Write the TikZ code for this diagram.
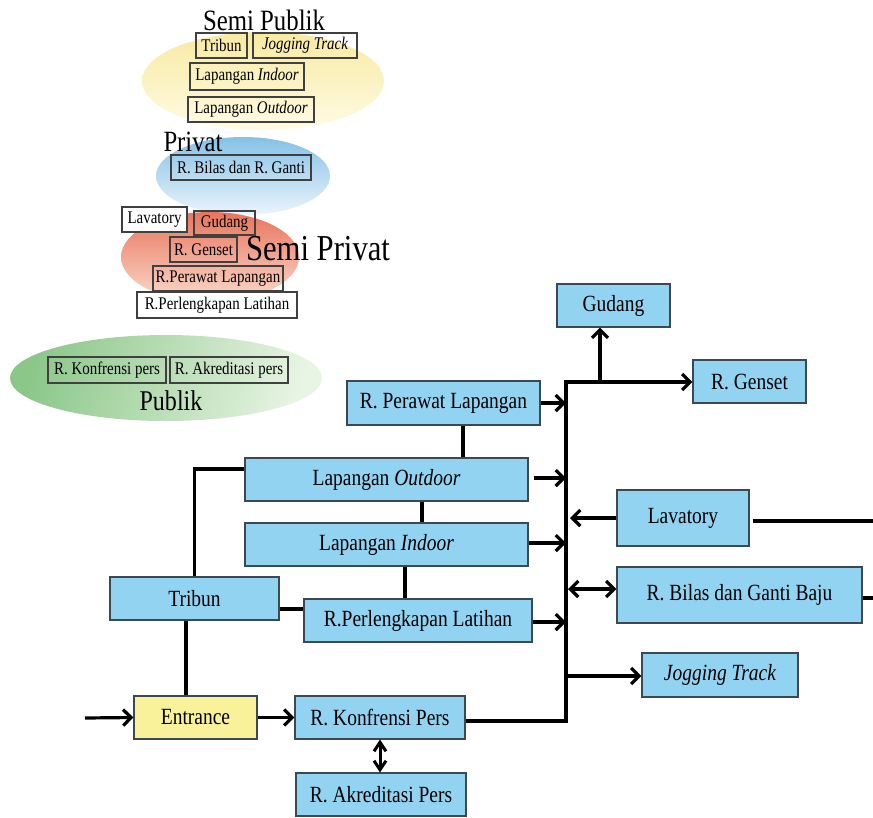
\documentclass[tikz,border=0pt]{standalone}
\usepackage{fontspec}
\setmainfont{Liberation Serif}[FakeStretch=0.84]
\usetikzlibrary{arrows.meta}
\definecolor{boxblue}{HTML}{92D3F1}
\definecolor{boxyel}{HTML}{F9F29A}
\definecolor{boxedge}{HTML}{3A4A55}
\definecolor{ytop}{HTML}{F8EAA2}
\definecolor{ybot}{HTML}{FFFBE4}
\definecolor{btop}{HTML}{86C1E7}
\definecolor{bbot}{HTML}{EAF5FC}
\definecolor{stop}{HTML}{E8755C}
\definecolor{sbot}{HTML}{FBDACD}
\definecolor{gleft}{HTML}{8CC78A}
\definecolor{gright}{HTML}{E8F4E4}
\tikzset{
  flowbox/.style={draw=boxedge, line width=1.2pt, fill=boxblue, inner sep=0pt,
    font=\fontsize{23.2}{25}\selectfont},
  legbox/.style={draw=black!75, line width=1.1pt, inner sep=0pt,
    font=\fontsize{17.8}{19}\selectfont},
  legtitle/.style={inner sep=0pt},
  conn/.style={line width=3.2pt},
  arr/.style={line width=3.2pt, -{Straight Barb[length=8pt,width=16pt]}},
  darr/.style={line width=3.2pt, {Straight Barb[length=8pt,width=16pt]}-{Straight Barb[length=8pt,width=16pt]}}
}
\begin{document}
\begin{tikzpicture}[x=1pt,y=-1pt]
\useasboundingbox (0,0) rectangle (873,817);

% ---------- legend ellipses ----------
\shade[top color=ytop, bottom color=ybot] (263,81) ellipse [x radius=121, y radius=49];
\shade[top color=btop, bottom color=bbot] (243,176) ellipse [x radius=87, y radius=39];
\shade[top color=stop, bottom color=sbot] (210,257) ellipse [x radius=89, y radius=45];
\shade[left color=gleft, right color=gright, shading angle=75] (166,378) ellipse [x radius=156, y radius=43];

% ---------- legend titles ----------
\node[legtitle, font=\fontsize{29.5}{31}\selectfont] (tsp) at (264,20) {Semi Publik};
\node[legtitle, font=\fontsize{29.4}{31}\selectfont] (tpr) at (193,142) {Privat};
\node[legtitle, font=\fontsize{36.5}{38}\selectfont] (tspr) at (318,249) {Semi Privat};
\node[legtitle, font=\fontsize{28.6}{30}\selectfont] (tpu) at (171,401) {Publik};

% ---------- legend boxes ----------
\node[legbox, minimum width=51pt, minimum height=25pt] (lt) at (221.5,45.5) {Tribun};
\node[legbox, minimum width=104pt, minimum height=25pt] (lj) at (305,45.5) {\itshape Jogging Track};
\node[legbox, minimum width=114pt, minimum height=27pt] (li) at (247,76.5) {Lapangan \textit{Indoor}};
\node[legbox, minimum width=126pt, minimum height=25pt] (lo) at (251,109.5) {Lapangan \textit{Outdoor}};
\node[legbox, minimum width=140pt, minimum height=25pt] (lb) at (241,167.5) {R. Bilas dan R. Ganti};
\node[legbox, fill=white, minimum width=65pt, minimum height=25pt] (ll) at (154.5,219.5) {Lavatory};
\node[legbox, minimum width=61pt, minimum height=24pt] (lg) at (224.5,223) {Gudang};
\node[legbox, minimum width=67pt, minimum height=25pt] (lgs) at (203.5,249.5) {R. Genset};
\node[legbox, minimum width=130pt, minimum height=25pt] (lp) at (218,278.5) {R.Perawat Lapangan};
\node[legbox, fill=white, minimum width=160pt, minimum height=26pt] (lpl) at (217,305) {R.Perlengkapan Latihan};
\node[legbox, minimum width=118pt, minimum height=26pt] (lk) at (107,370) {R. Konfrensi pers};
\node[legbox, minimum width=118pt, minimum height=26pt] (la) at (229,370) {R. Akreditasi pers};

% ---------- flow boxes ----------
\node[flowbox, minimum width=113pt, minimum height=43pt] (gud) at (613.5,305.5) {Gudang};
\node[flowbox, minimum width=113pt, minimum height=43pt] (gen) at (749.5,381.5) {R. Genset};
\node[flowbox, minimum width=193pt, minimum height=44pt] (per) at (443.5,403) {R. Perawat Lapangan};
\node[flowbox, minimum width=283pt, minimum height=43pt] (out) at (386.5,479.5) {Lapangan \textit{Outdoor}};
\node[flowbox, minimum width=283pt, minimum height=43pt] (ind) at (386.5,544.5) {Lapangan \textit{Indoor}};
\node[flowbox, minimum width=169pt, minimum height=43pt] (tri) at (194.5,598.5) {Tribun};
\node[flowbox, minimum width=228pt, minimum height=43pt] (pl) at (418,620.5) {R.Perlengkapan Latihan};
\node[flowbox, minimum width=132pt, minimum height=56pt] (lav) at (683,518) {Lavatory};
\node[flowbox, minimum width=245pt, minimum height=56pt] (bil) at (739.5,595) {R. Bilas dan Ganti Baju};
\node[flowbox, minimum width=156pt, minimum height=44pt] (jog) at (720,675) {\itshape Jogging Track};
\node[flowbox, fill=boxyel, minimum width=123pt, minimum height=43pt] (ent) at (195.5,717.5) {Entrance};
\node[flowbox, minimum width=170pt, minimum height=43pt] (kon) at (380,717.5) {R. Konfrensi Pers};
\node[flowbox, minimum width=170pt, minimum height=43pt] (akr) at (381,794.5) {R. Akreditasi Pers};

% ---------- bus coordinates ----------
\coordinate (bt) at (566,382);
\coordinate (bb) at (566,721);
\coordinate (gst) at (600,382);
\coordinate (inp) at (85,718);
\coordinate (lavend) at (873,521);
\coordinate (bilend) at (873,598);

% bus with Konfrensi and Genset
\draw[conn, line join=miter] ([yshift=-3.5pt]kon.east) -- (bb) -- (bt) -- ++(80,0);
\draw[arr] (bt) -- (bt -| gen.west);
\draw[arr] (gst) -- (gst |- gud.south);

% arrows into the bus
\draw[arr] (per.east) -- (per.east -| bt);
\draw[arr] ([xshift=5pt,yshift=1.5pt]out.east) -- ([yshift=1.5pt]out.east -| bt);
\draw[arr] ([yshift=1.5pt]ind.east) -- ([yshift=1.5pt]ind.east -| bt);
\draw[arr] ([yshift=-1.5pt]pl.east) -- ([yshift=-1.5pt]pl.east -| bt);

% arrows out of the bus
\draw[arr] (lav.west) -- ([xshift=4pt]lav.west -| bt);
\draw[darr] ([xshift=2pt,yshift=6pt]bil.west -| bt) -- ([yshift=6pt]bil.west);
\draw[arr] ([yshift=-1pt]jog.west -| bt) -- ([yshift=-1pt]jog.west);

% lines running off the right edge
\draw[conn] ([xshift=3pt,yshift=-3pt]lav.east) -- (lavend);
\draw[conn] ([yshift=-3pt]bil.east) -- (bilend);

% vertical links between the stacked boxes
\draw[conn] ([xshift=19.5pt]per.south) -- ([xshift=19.5pt]per.south |- out.north);
\draw[conn] ([xshift=35.5pt]out.south) -- ([xshift=35.5pt]out.south |- ind.north);
\draw[conn] ([xshift=18.5pt]ind.south) -- ([xshift=18.5pt]ind.south |- pl.north);

% Tribun links
\draw[conn, line join=miter] (tri.north) |- ([yshift=10.5pt]out.west);
\draw[conn] ([yshift=-10.5pt]tri.east) -- ([yshift=-10.5pt]tri.east -| pl.west);
\draw[conn] ([xshift=-8.5pt]tri.south) -- ([xshift=-8.5pt]tri.south |- ent.north);

% entrance chain
\draw[arr] (inp) -- (ent.west);
\draw[arr] (ent.east) -- (kon.west);
\draw[line width=3pt, {Straight Barb[length=9pt,width=12pt]}-{Straight Barb[length=9pt,width=12pt]}] (kon.south) -- (kon.south |- akr.north);
\end{tikzpicture}
\end{document}
